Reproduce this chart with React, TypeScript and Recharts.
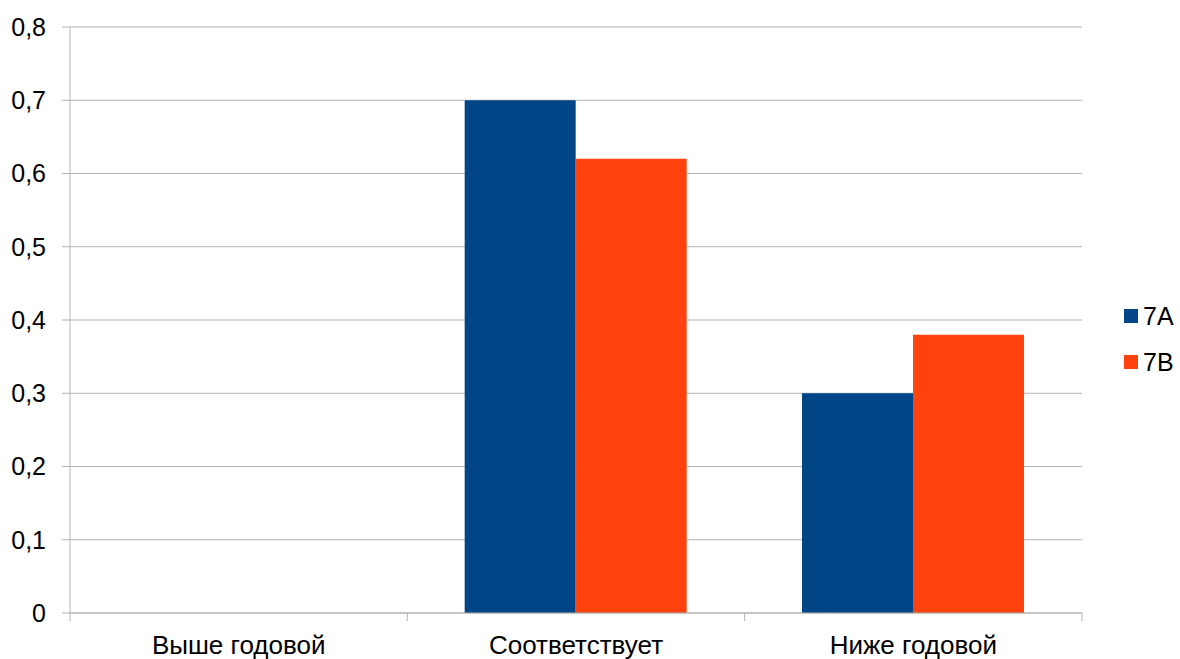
import React from 'react';
import {
  BarChart,
  Bar,
  XAxis,
  YAxis,
  CartesianGrid,
  Legend,
} from 'recharts';

// данные с картинки
const categories = ['Выше годовой', 'Соответствует', 'Ниже годовой'];
const class7A = [0, 0.7, 0.3];
const class7B = [0, 0.62, 0.38];
const yTicks = [0, 0.1, 0.2, 0.3, 0.4, 0.5, 0.6, 0.7, 0.8];

const data = categories.map((name, i) => ({
  name,
  '7A': class7A[i],
  '7B': class7B[i],
}));

const WIDTH = 1180;
const HEIGHT = 659;
const LEGEND_W = 56;
const MARGIN = { top: 27, right: 98 - LEGEND_W, left: 0, bottom: 0 };
const Y_WIDTH = 70;
const PLOT_W = WIDTH - 98 - Y_WIDTH;
const GRID = '#b3b3b3';
const FONT = '"Liberation Sans", Arial, sans-serif';

const COLORS = { '7A': '#004586', '7B': '#ff420e' };

function CategoryTick(props: any) {
  const { x, y, payload, index } = props;
  const band = PLOT_W / categories.length;
  return (
    <g>
      <line x1={x - band / 2} x2={x - band / 2} y1={y} y2={y + 8} stroke={GRID} />
      {index === categories.length - 1 && (
        <line x1={x + band / 2} x2={x + band / 2} y1={y} y2={y + 8} stroke={GRID} />
      )}
      <text x={x} y={y + 41} textAnchor="middle" fontSize={26} fill="#000" fontFamily={FONT}>
        {payload.value}
      </text>
    </g>
  );
}

function LegendBox(props: any) {
  const { payload } = props;
  return (
    <div style={{ fontFamily: FONT }}>
      {(payload || []).map((item: any) => (
        <div key={item.value} style={{ display: 'flex', alignItems: 'center', height: 46 }}>
          <span style={{ width: 14, height: 14, background: item.color, display: 'inline-block', marginRight: 5 }} />
          <span style={{ fontSize: 25, color: '#000' }}>{item.value}</span>
        </div>
      ))}
    </div>
  );
}

export default function App() {
  return (
    <div style={{ position: 'absolute', left: 0, top: 0, width: WIDTH, height: HEIGHT, background: '#fff' }}>
      <BarChart
        width={WIDTH}
        height={HEIGHT}
        data={data}
        margin={MARGIN}
        barCategoryGap="17%"
        barGap={0}
      >
        <CartesianGrid vertical={false} stroke={GRID} />
        <XAxis
          dataKey="name"
          height={46}
          tickLine={false}
          tickSize={0}
          tickMargin={0}
          axisLine={{ stroke: GRID }}
          tick={<CategoryTick />}
          interval={0}
        />
        <YAxis
          width={Y_WIDTH}
          domain={[0, 0.8]}
          ticks={yTicks}
          tickFormatter={(v: number) => String(v).replace('.', ',')}
          tick={{ fontSize: 25, fill: '#000', fontFamily: FONT }}
          tickSize={8}
          tickMargin={16}
          tickLine={{ stroke: GRID }}
          axisLine={{ stroke: GRID }}
        />
        <YAxis
          yAxisId="border"
          orientation="right"
          width={0}
          tick={false}
          tickLine={false}
          axisLine={{ stroke: GRID }}
        />
        <Legend
          layout="vertical"
          align="right"
          verticalAlign="middle"
          content={<LegendBox />}
          wrapperStyle={{ left: 1124, top: 293, width: LEGEND_W }}
        />
        <Bar dataKey="7A" fill={COLORS['7A']} isAnimationActive={false} />
        <Bar dataKey="7B" fill={COLORS['7B']} isAnimationActive={false} />
      </BarChart>
    </div>
  );
}
